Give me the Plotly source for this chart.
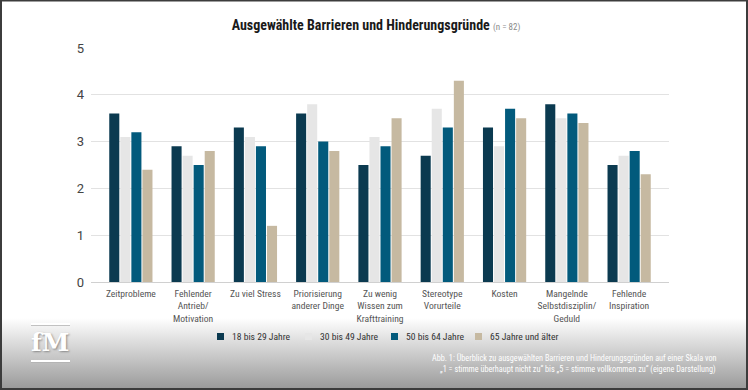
import base64
import plotly.graph_objects as go

categories = [
    "Zeitprobleme",
    "Fehlender<br>Antrieb/<br>Motivation",
    "Zu viel Stress",
    "Priorisierung<br>anderer Dinge",
    "Zu wenig<br>Wissen zum<br>Krafttraining",
    "Stereotype<br>Vorurteile",
    "Kosten",
    "Mangelnde<br>Selbstdisziplin/<br>Geduld",
    "Fehlende<br>Inspiration",
]
series_names = ["18 bis 29 Jahre", "30 bis 49 Jahre", "50 bis 64 Jahre", "65 Jahre und älter"]
age_18_29 = [3.6, 2.9, 3.3, 3.6, 2.5, 2.7, 3.3, 3.8, 2.5]
age_30_49 = [3.1, 2.7, 3.1, 3.8, 3.1, 3.7, 2.9, 3.5, 2.7]
age_50_64 = [3.2, 2.5, 2.9, 3.0, 2.9, 3.3, 3.7, 3.6, 2.8]
age_65_plus = [2.4, 2.8, 1.2, 2.8, 3.5, 4.3, 3.5, 3.4, 2.3]
y_ticks = [0, 1, 2, 3, 4, 5]
colors = ["#0b3a50", "#e6e6e6", "#025a7c", "#c6b9a1"]
caption_lines = [
    "Abb. 1: Überblick zu ausgewählten Barrieren und Hinderungsgründen auf einer Skala von",
    "„1 = stimme überhaupt nicht zu“ bis „5 = stimme vollkommen zu“ (eigene Darstellung)",
]

W, H = 748, 390
L, R, T, B = 91, 79, 48, 108
PW, PH = W - L - R, H - T - B


def px_x(px):
    return (px - L) / PW


def px_y(py):
    return (H - B - py) / PH


svg = f"""<svg xmlns='http://www.w3.org/2000/svg' width='{W}' height='{H}' viewBox='0 0 {W} {H}'>
<defs><linearGradient id='g' x1='0' y1='0' x2='0' y2='1'>
<stop offset='0' stop-color='#ffffff'/><stop offset='{318/390:.4f}' stop-color='#ffffff'/>
<stop offset='1' stop-color='#989898'/></linearGradient></defs>
<rect x='0' y='0' width='{W}' height='{H}' fill='url(#g)'/>
<rect x='1' y='0.5' width='{W-2}' height='{H-1.5}' fill='none' stroke='#3c3c3c' stroke-width='2'/>
</svg>"""
src = "data:image/svg+xml;base64," + base64.b64encode(svg.encode()).decode()

fig = go.Figure()
for name, vals, col in zip(series_names, [age_18_29, age_30_49, age_50_64, age_65_plus], colors):
    fig.add_trace(go.Bar(x=categories, y=vals, name=name, marker=dict(color=col, line=dict(width=0)),
                         showlegend=False))

cond = "Liberation Sans Narrow, Roboto Condensed, Roboto, sans-serif"

fig.update_layout(
    width=W, height=H,
    margin=dict(l=L, r=R, t=T, b=B, pad=0),
    paper_bgcolor="white",
    plot_bgcolor="rgba(0,0,0,0)",
    barmode="group",
    bargap=0.29,
    bargroupgap=0.09,
    title=dict(
        text="<b>Ausgewählte Barrieren und Hinderungsgründe</b> <span style='font-size:9px;color:#8a8a8a'>(n = 82)</span>",
        x=376 / W, xanchor="center", y=1 - 25 / H, yanchor="middle",
        font=dict(family=cond, size=14, color="#1a1a1a"),
    ),
    xaxis=dict(
        type="category", range=[-0.64, 8.64], showgrid=False, showline=False,
        tickfont=dict(family=cond, size=9.6, color="#555555"), ticks="", ticklabelstandoff=4,
    ),
    yaxis=dict(
        range=[0, 5], tickvals=y_ticks, showgrid=True, gridcolor="#e2e2e2", gridwidth=1,
        zeroline=True, zerolinecolor="#d0d0d0", zerolinewidth=1,
        tickfont=dict(family="Roboto, sans-serif", size=13, color="#444444"), ticks="",
        ticklabelstandoff=6,
    ),
    images=[dict(
        source=src, xref="paper", yref="paper", x=px_x(0), y=px_y(0),
        sizex=W / PW, sizey=H / PH, xanchor="left", yanchor="top",
        sizing="stretch", layer="below",
    )],
    showlegend=False,
)

# custom legend (squares + labels)
legend_x = [217, 305, 391, 475]
for name, col, lx in zip(series_names, colors, legend_x):
    fig.add_shape(type="rect", xref="paper", yref="paper",
                  x0=px_x(lx), x1=px_x(lx + 7), y0=px_y(333), y1=px_y(340),
                  fillcolor=col, line=dict(width=0))
    fig.add_annotation(text=name, xref="paper", yref="paper", x=px_x(lx + 13), y=px_y(336.5),
                       xanchor="left", yanchor="middle", showarrow=False,
                       font=dict(family=cond, size=9.6, color="#333333"))

# caption
for line, py in zip(caption_lines, (358, 369)):
    fig.add_annotation(
        text=line, xref="paper", yref="paper", x=px_x(718), y=px_y(py),
        xanchor="right", yanchor="middle", align="right", showarrow=False,
        font=dict(family=cond, size=8.2, color="white"),
    )

# logo
fig.add_annotation(
    text="<b>fM</b>", xref="paper", yref="paper", x=px_x(50), y=px_y(342),
    xanchor="center", yanchor="middle", showarrow=False,
    font=dict(family="DejaVu Serif, serif", size=25, color="white", shadow="1px 1px 2px #888888"),
)
for py in (324, 361):
    fig.add_shape(type="line", xref="paper", yref="paper", x0=px_x(31), x1=px_x(70),
                  y0=px_y(py + 1), y1=px_y(py + 1), line=dict(color="#b0b0b0", width=1.5))
    fig.add_shape(type="line", xref="paper", yref="paper", x0=px_x(31), x1=px_x(70),
                  y0=px_y(py), y1=px_y(py), line=dict(color="white", width=2))

fig.write_html("out.html", config={"displayModeBar": False},
               post_script="document.body.style.margin='0';document.body.style.padding='0';")
